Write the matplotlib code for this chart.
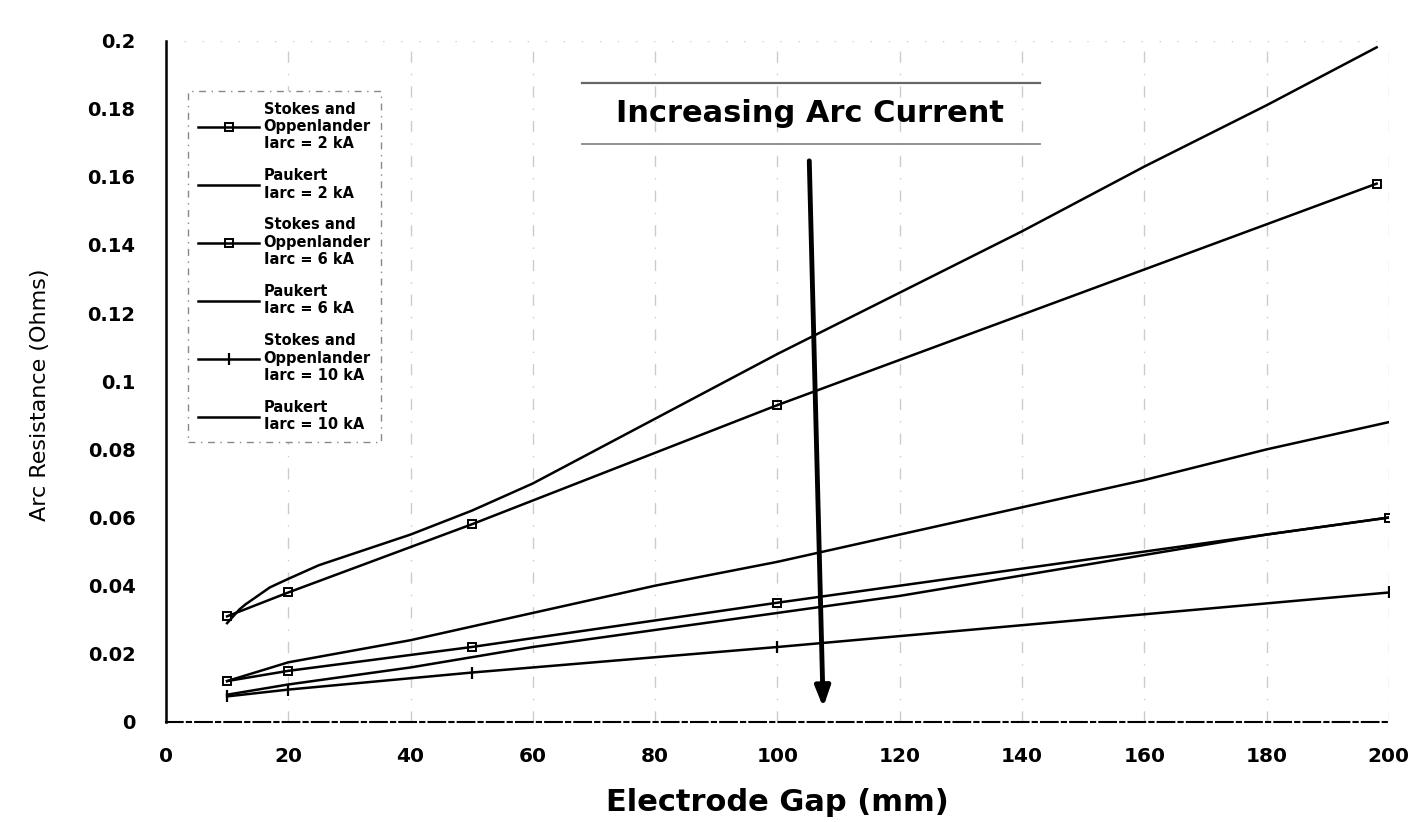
import matplotlib
matplotlib.use("Agg")
import matplotlib.pyplot as plt
import numpy as np

plt.rcParams['font.family'] = ['DejaVu Sans']

# ---- data ----
gap_stokes = [10, 20, 50, 100, 198]
stokes_2kA = [0.031, 0.038, 0.058, 0.093, 0.158]
gap_stokes_b = [10, 20, 50, 100, 200]
stokes_6kA = [0.012, 0.015, 0.022, 0.035, 0.060]
stokes_10kA = [0.0075, 0.0095, 0.0145, 0.022, 0.038]

gap_paukert_2 = [10, 11, 12, 13, 15, 17, 20, 25, 30, 40, 50, 60, 80, 100, 120, 140, 160, 180, 198]
paukert_2kA = [0.029, 0.031, 0.033, 0.0345, 0.037, 0.0395, 0.042, 0.046, 0.049, 0.055, 0.062, 0.070, 0.089,
               0.108, 0.126, 0.144, 0.163, 0.181, 0.198]
gap_paukert = [10, 20, 40, 60, 80, 100, 120, 140, 160, 180, 200]
paukert_6kA = [0.012, 0.0175, 0.024, 0.032, 0.040, 0.047, 0.055, 0.063, 0.071, 0.080, 0.088]
paukert_10kA = [0.008, 0.011, 0.016, 0.022, 0.027, 0.032, 0.037, 0.043, 0.049, 0.055, 0.060]

labels = ["Stokes and\nOppenlander\nIarc = 2 kA", "Paukert\nIarc = 2 kA",
          "Stokes and\nOppenlander\nIarc = 6 kA", "Paukert\nIarc = 6 kA",
          "Stokes and\nOppenlander\nIarc = 10 kA", "Paukert\nIarc = 10 kA"]
x_ticks = list(range(0, 201, 20))
y_ticks = [0, 0.02, 0.04, 0.06, 0.08, 0.1, 0.12, 0.14, 0.16, 0.18, 0.2]
y_tick_labels = ["0", "0.02", "0.04", "0.06", "0.08", "0.1", "0.12", "0.14", "0.16", "0.18", "0.2"]

fig = plt.figure(figsize=(14.22, 8.22), dpi=100)
ax = fig.add_axes([0.1167, 0.1217, 0.86, 0.829])

lw = 1.8
ax.plot(gap_stokes, stokes_2kA, color='black', lw=lw, marker='s', ms=6, mfc='none', mew=1.4, label=labels[0])
ax.plot(gap_paukert_2, paukert_2kA, color='black', lw=lw, label=labels[1], clip_on=False)
ax.plot(gap_stokes_b, stokes_6kA, color='black', lw=lw, marker='s', ms=6, mfc='none', mew=1.4, label=labels[2])
ax.plot(gap_paukert, paukert_6kA, color='black', lw=lw, label=labels[3])
ax.plot(gap_stokes_b, stokes_10kA, color='black', lw=lw, marker='|', ms=8, mew=1.6, label=labels[4])
ax.plot(gap_paukert, paukert_10kA, color='black', lw=lw, label=labels[5])

ax.set_xlim(0, 200)
ax.set_ylim(0, 0.2)
ax.set_xticks(x_ticks)
ax.set_xticklabels([str(t) for t in x_ticks])
ax.set_yticks(y_ticks)
ax.set_yticklabels(y_tick_labels)
ax.tick_params(axis='x', length=0, labelsize=14.5, pad=18)
ax.tick_params(axis='y', length=0, labelsize=14, pad=22)
for t in ax.get_xticklabels() + ax.get_yticklabels():
    t.set_fontweight('bold')

# grid: vertical dash-dot lines
for xv in x_ticks[1:]:
    ax.axvline(xv, color='#999999', lw=1.0, ls=(0, (8, 8, 1, 8)), alpha=0.5, zorder=0)
ax.axhline(0.2, color='#aaaaaa', lw=1.0, ls=(0, (1, 12)), alpha=0.6, zorder=0)

for s in ['top', 'right']:
    ax.spines[s].set_visible(False)
ax.spines['left'].set_linewidth(1.8)
ax.spines['bottom'].set_linewidth(1.5)
ax.spines['bottom'].set_linestyle((0, (8, 2, 2, 2)))

ax.set_xlabel("Electrode Gap (mm)", fontsize=22, fontweight='bold', labelpad=16)
ax.set_ylabel("Arc Resistance (Ohms)", fontsize=16)
ax.yaxis.set_label_coords(-0.095, 0.48)

leg = ax.legend(loc='upper left', bbox_to_anchor=(0.012, 0.936),
                prop={'weight': 'bold', 'size': 10.5}, handlelength=4.2, handletextpad=0.3,
                labelspacing=1.15, borderpad=0.7, fancybox=False, framealpha=1)
leg.get_frame().set_edgecolor('#888888')
leg.get_frame().set_linestyle((0, (5, 4, 1, 4)))
leg.get_frame().set_linewidth(1.0)

# annotation
ax.text(105.3, 0.1785, "Increasing Arc Current", fontsize=22, fontweight='bold',
        ha='center', va='center')
ax.plot([68, 143], [0.1875, 0.1875], color='#666666', lw=1.6)
ax.plot([68, 143], [0.1695, 0.1695], color='#888888', lw=1.3)
ax.annotate("", xy=(107.5, 0.0035), xytext=(105.2, 0.1655),
            arrowprops=dict(arrowstyle='-|>,head_length=1.2,head_width=0.45', lw=3.5, color='black'))

fig.savefig("out.png", dpi=100)
